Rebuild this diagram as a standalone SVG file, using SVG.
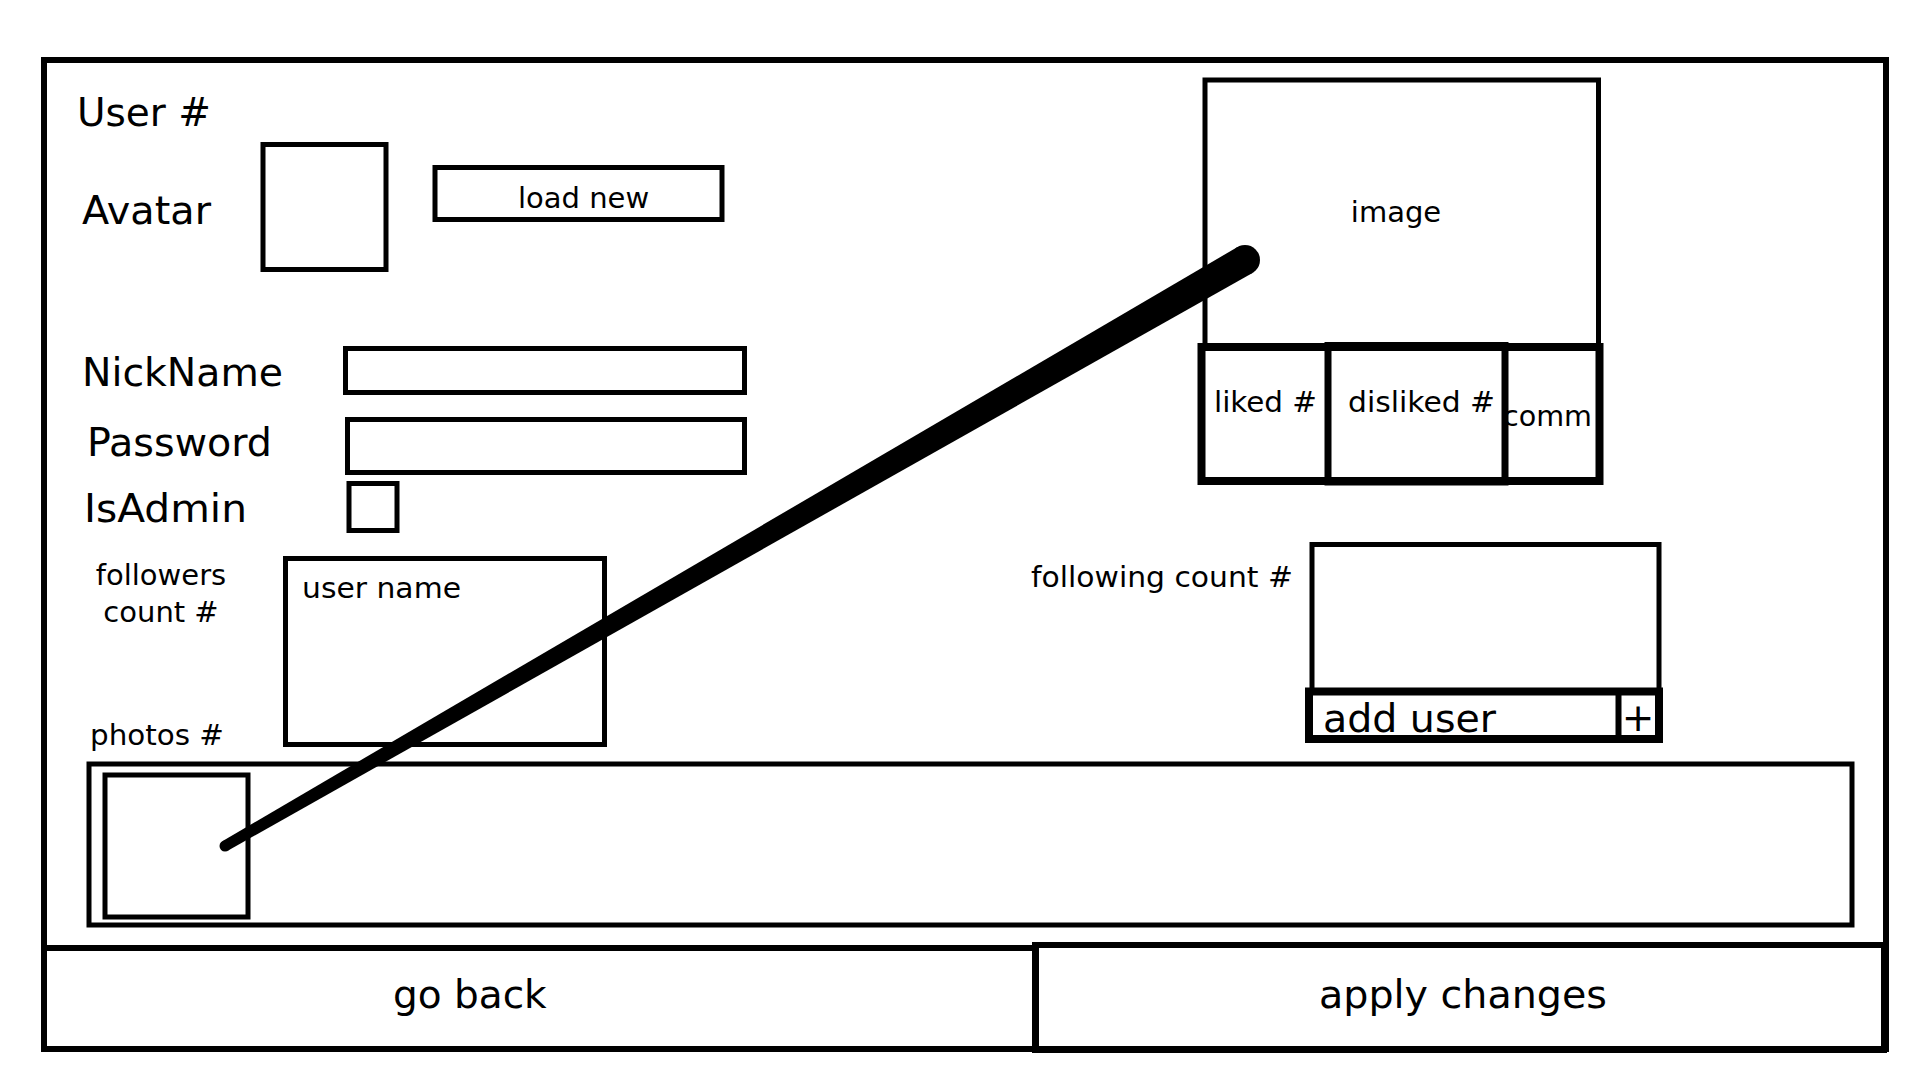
<svg xmlns="http://www.w3.org/2000/svg" width="1920" height="1080" viewBox="0 0 1920 1080">
<style>
  .box { fill: none; stroke: #000; stroke-width: 5; }
  .thick { fill: none; stroke: #000; stroke-width: 6; }
  .t { font-family: "DejaVu Sans", "Liberation Sans", sans-serif; fill: #000; }
  .big { font-size: 39px; }
  .small { font-size: 29px; }
</style>
<rect width="1920" height="1080" fill="#fff"/>
<g id="frame">
  <rect class="thick" x="44" y="60" width="1842" height="989"/>
</g>
<g id="user-title">
  <text class="t big" x="77" y="126">User #</text>
</g>
<g id="avatar">
  <text class="t big" x="82" y="224" textLength="129" lengthAdjust="spacingAndGlyphs">Avatar</text>
  <rect class="box" x="263" y="144.5" width="123" height="125"/>
</g>
<g id="load-new">
  <rect class="box" x="435" y="167.5" width="287" height="52"/>
  <text class="t small" x="518" y="208">load new</text>
</g>
<g id="nickname">
  <text class="t big" x="82" y="386" textLength="201" lengthAdjust="spacingAndGlyphs">NickName</text>
  <rect class="box" x="345.5" y="348.5" width="399" height="44"/>
</g>
<g id="password">
  <text class="t big" x="87" y="456" textLength="185" lengthAdjust="spacingAndGlyphs">Password</text>
  <rect class="box" x="347.5" y="419.5" width="397" height="53"/>
</g>
<g id="isadmin">
  <text class="t big" x="84" y="522" textLength="163" lengthAdjust="spacingAndGlyphs">IsAdmin</text>
  <rect class="box" x="349" y="483.5" width="48" height="47"/>
</g>
<g id="followers">
  <text class="t small" x="161" y="585" text-anchor="middle">followers</text>
  <text class="t small" x="161" y="622" text-anchor="middle">count #</text>
</g>
<g id="user-name-list">
  <rect class="box" x="285.5" y="558.5" width="319" height="186"/>
  <text class="t small" x="302" y="598" textLength="159" lengthAdjust="spacingAndGlyphs">user name</text>
</g>
<g id="photos-label">
  <text class="t small" x="90" y="745" textLength="134" lengthAdjust="spacingAndGlyphs">photos #</text>
</g>
<g id="image-panel">
  <rect class="box" x="1205" y="80" width="393.5" height="266.5"/>
  <text class="t small" x="1396" y="222" text-anchor="middle">image</text>
</g>
<g id="stats-row">
  <rect fill="none" stroke="#000" stroke-width="8" x="1201.5" y="347" width="398" height="134"/>
  <rect fill="none" stroke="#000" stroke-width="7" x="1328" y="345.5" width="177" height="136.5"/>
  <text class="t small" x="1214" y="412" textLength="103" lengthAdjust="spacingAndGlyphs">liked #</text>
  <text class="t small" x="1348" y="412" textLength="147" lengthAdjust="spacingAndGlyphs">disliked #</text>
  <text class="t small" x="1503" y="426" textLength="89" lengthAdjust="spacingAndGlyphs">comm</text>
</g>
<g id="following">
  <text class="t small" x="1031" y="587" textLength="262" lengthAdjust="spacingAndGlyphs">following count #</text>
  <rect class="box" x="1312" y="544.5" width="347" height="147"/>
</g>
<g id="add-user">
  <rect fill="none" stroke="#000" stroke-width="8" x="1309" y="691.5" width="350" height="47.5"/>
  <line x1="1618.5" y1="691.5" x2="1618.5" y2="739" stroke="#000" stroke-width="6"/>
  <text class="t big" x="1323" y="732" textLength="173" lengthAdjust="spacingAndGlyphs">add user</text>
  <text class="t big" x="1638" y="731" text-anchor="middle">+</text>
</g>
<g id="photos-strip">
  <rect class="box" x="89" y="764" width="1763" height="161"/>
  <rect class="box" x="105" y="775" width="143" height="142"/>
</g>
<g id="go-back">
  <rect class="thick" x="44" y="948" width="992" height="101"/>
  <text class="t big" x="393" y="1008">go back</text>
</g>
<g id="apply-changes">
  <rect class="thick" x="1035" y="945" width="849" height="105"/>
  <text class="t big" x="1319" y="1008" textLength="288" lengthAdjust="spacingAndGlyphs">apply changes</text>
</g>
<g id="connectors">
  <polygon fill="#000" points="222.26,841.23 1237.53,246.99 1252.47,273.01 227.74,850.77"/>
  <circle fill="#000" cx="225" cy="846" r="5.5"/>
  <circle fill="#000" cx="1245" cy="260" r="15"/>
</g>
</svg>
